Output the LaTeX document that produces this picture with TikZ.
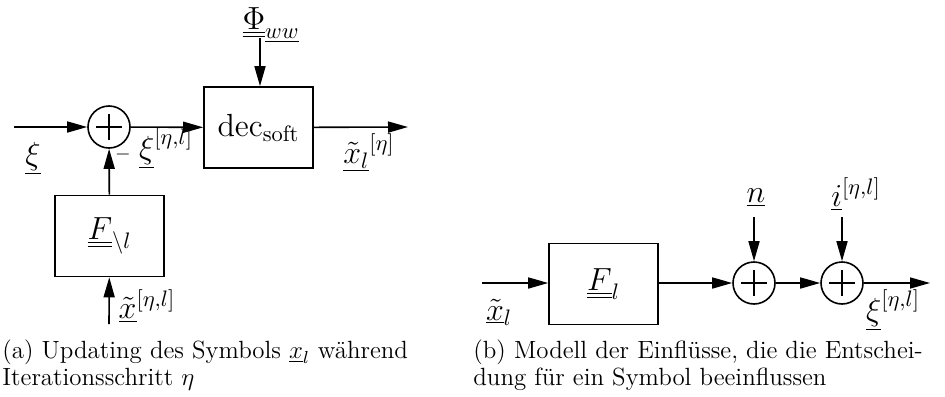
\RequirePackage{fix-cm}
\documentclass[tikz,border=0pt]{standalone}
\usetikzlibrary{arrows.meta}
\tikzset{
  lbl/.style={font=\fontsize{16}{19}\selectfont, inner sep=0pt},
  captxt/.style={font=\fontsize{12.45}{13.6}\selectfont, inner sep=0pt, align=left, anchor=north west},
  blockbox/.style={draw, line width=0.8pt, minimum width=54.5pt, minimum height=40.5pt, inner sep=0pt, font=\fontsize{16}{19}\selectfont},
  sumnode/.style={circle, draw, line width=0.8pt, minimum size=21pt, inner sep=0pt,
    path picture={\draw[line width=0.6pt] (path picture bounding box.center) ++(-6.5pt,0) -- ++(13pt,0)
      (path picture bounding box.center) ++(0,-6.5pt) -- ++(0,13pt);}},
  sig/.style={line width=0.8pt, -{Triangle[length=10pt,width=5.5pt]}},
}
\begin{document}
\begin{tikzpicture}[x=0.5pt,y=-0.5pt]
\useasboundingbox (0,0) rectangle (945,396);
% ---------- (a) ----------
\coordinate (ain) at (14,127);
\node[sumnode] (s1) at (109,127) {};
\node[blockbox] (dec) at (258.5,127.5) {$\mathrm{dec}_{\mathrm{soft}}$};
\node[blockbox] (Fa) at (109.5,236) {$\underline{\underline{F}}_{\backslash l}$};
\coordinate (phitop) at (260,38);
\coordinate (aout) at (408,127);
\coordinate (xin) at (109,324);
\draw[sig] (ain) -- (s1);
\draw[sig] (s1) -- (dec);
\draw[sig] (dec) -- (aout);
\draw[sig] (phitop) -- (phitop |- dec.north);
\draw[sig] (Fa) -- (s1);
\draw[sig] (xin) -- (Fa);
\node[lbl] (lxi) at (33,158) {$\underline{\xi}$};
\node[lbl] (lxieta) at (166,148) {$\underline{\xi}^{[\eta,l]}$};
\node[font=\fontsize{10}{12}\selectfont, inner sep=0pt] (lminus) at (123,154) {$-$};
\node[lbl] (lphi) at (271,25) {$\underline{\underline{\Phi}}_{\underline{ww}}$};
\node[lbl] (lxout) at (369,153) {$\underline{\tilde{x}_l}^{[\eta]}$};
\node[lbl] (lxin) at (147,306) {$\underline{\tilde{x}}^{[\eta,l]}$};
\node[captxt] (capa) at (2,339.5) {(a) Updating des Symbols $\underline{x}_l$ während\\Iterationsschritt $\eta$};
% ---------- (b) ----------
\coordinate (bin) at (482,283);
\node[blockbox] (Fb) at (603.5,284) {$\underline{\underline{F}}_{l}$};
\node[sumnode] (s2) at (754,283) {};
\node[sumnode] (s3) at (842,283) {};
\coordinate (ntop) at (754,217);
\coordinate (itop) at (842,217);
\coordinate (bout) at (930,283);
\draw[sig] (bin) -- (Fb.west |- bin);
\draw[sig] (Fb.east |- s2) -- (s2);
\draw[sig] (s2) -- (s3);
\draw[sig] (s3) -- (bout);
\draw[sig] (ntop) -- (s2);
\draw[sig] (itop) -- (s3);
\node[lbl] (ln) at (756,198) {$\underline{n}$};
\node[lbl] (li) at (856,194) {$\underline{i}^{[\eta,l]}$};
\node[lbl] (lxl) at (499,312) {$\underline{\tilde{x}}_l$};
\node[lbl] (lxib) at (893,310) {$\underline{\xi}^{[\eta,l]}$};
\node[captxt] (capb) at (473,339.5) {(b) Modell der Einflüsse, die die Entschei-\\dung für ein Symbol beeinflussen};
\end{tikzpicture}
\end{document}
